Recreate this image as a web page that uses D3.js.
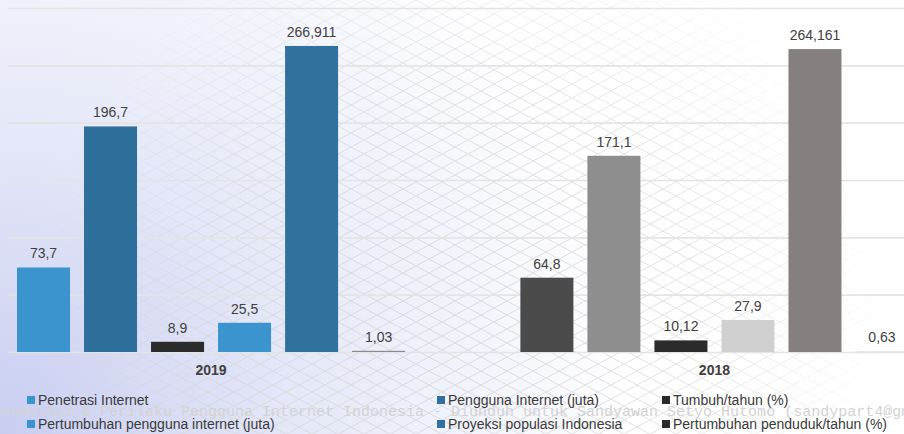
<!DOCTYPE html>
<html>
<head>
<meta charset="utf-8">
<script src="https://cdn.jsdelivr.net/npm/d3@7"></script>
<style>
  html, body { margin: 0; padding: 0; background: #fff; }
  svg { display: block; font-family: "Liberation Sans", Arial, sans-serif; }
</style>
</head>
<body>
<svg id="chart" width="904" height="434"></svg>
<script>
// ---- data ----
const categories = ["2019", "2018"];
const seriesNames = [
  "Penetrasi Internet",
  "Pengguna Internet (juta)",
  "Tumbuh/tahun (%)",
  "Pertumbuhan pengguna internet (juta)",
  "Proyeksi populasi Indonesia",
  "Pertumbuhan penduduk/tahun (%)"
];
const values2019 = [73.7, 196.7, 8.9, 25.5, 266.911, 1.03];
const values2018 = [64.8, 171.1, 10.12, 27.9, 264.161, 0.63];
const yTicks = [0, 50, 100, 150, 200, 250, 300];

// ---- styles ----
const colors2019 = ["#3b94cd", "#2f6f9b", "#2b2b2b", "#3b94cd", "#30719e", "#8a8a8a"];
const colors2018 = ["#4b4b4b", "#8e8e8e", "#2b2b2b", "#d0d0d0", "#857f7f", "#e4e4e4"];
const legendColors = ["#3b94cd", "#2f6f9b", "#2b2b2b", "#3b94cd", "#30719e", "#2b2b2b"];

const valuesByCat = { "2019": values2019, "2018": values2018 };
const colorsByCat = { "2019": colors2019, "2018": colors2018 };

const W = 904, H = 434;
const svg = d3.select("#chart");
const defs = svg.append("defs");

// background gradient (lavender bottom-left)
const rg = defs.append("radialGradient").attr("id", "bgGrad")
  .attr("gradientUnits", "userSpaceOnUse")
  .attr("cx", 0).attr("cy", 434).attr("r", 640);
rg.append("stop").attr("offset", "0%").attr("stop-color", "#c9cef1");
rg.append("stop").attr("offset", "45%").attr("stop-color", "#e4e7f8");
rg.append("stop").attr("offset", "100%").attr("stop-color", "#ffffff");

// crosshatch pattern
const pat = defs.append("pattern").attr("id", "hatch")
  .attr("patternUnits", "userSpaceOnUse").attr("width", 26).attr("height", 14);
pat.append("path").attr("d", "M0,0 L26,14 M26,0 L0,14")
  .attr("stroke", "#d4d4d4").attr("stroke-width", 0.8).attr("fill", "none");

// mask so that the hatch is visible in the middle region only
const mg = defs.append("radialGradient").attr("id", "maskGrad")
  .attr("gradientUnits", "userSpaceOnUse")
  .attr("cx", 460).attr("cy", 320).attr("r", 430);
mg.append("stop").attr("offset", "0%").attr("stop-color", "#fff").attr("stop-opacity", 1);
mg.append("stop").attr("offset", "55%").attr("stop-color", "#fff").attr("stop-opacity", 0.8);
mg.append("stop").attr("offset", "100%").attr("stop-color", "#fff").attr("stop-opacity", 0);
const mask = defs.append("mask").attr("id", "hatchMask");
mask.append("rect").attr("width", W).attr("height", H).attr("fill", "url(#maskGrad)");

svg.append("rect").attr("width", W).attr("height", H).attr("fill", "url(#bgGrad)");
svg.append("rect").attr("width", W).attr("height", H).attr("fill", "url(#hatch)")
  .attr("mask", "url(#hatchMask)");

// ---- scales ----
const y = d3.scaleLinear().domain([0, 300]).range([352, 8]);
const x0 = d3.scaleBand().domain(categories).range([17, 908.5]).paddingInner(0.229).paddingOuter(0);
const x1 = d3.scaleBand().domain(d3.range(seriesNames.length)).range([0, x0.bandwidth()])
  .paddingInner(0.209).paddingOuter(0);

// gridlines
const grid = svg.append("g").attr("transform", "translate(8,0)")
  .call(d3.axisLeft(y).tickValues(yTicks).tickSize(-(W - 8)).tickFormat(""));
grid.select(".domain").remove();
grid.selectAll("line").attr("stroke", "#e4e4e4").attr("stroke-width", 1.6);

// bars
const fmt = v => String(v).replace(".", ",");
const groups = svg.append("g").selectAll("g").data(categories).join("g")
  .attr("transform", d => `translate(${x0(d)},0)`);

groups.selectAll("rect")
  .data(c => valuesByCat[c].map((v, i) => ({ c, v, i })))
  .join("rect")
  .attr("x", d => x1(d.i))
  .attr("width", x1.bandwidth())
  .attr("y", d => y(d.v))
  .attr("height", d => y(0) - y(d.v))
  .attr("fill", d => colorsByCat[d.c][d.i]);

groups.selectAll("text.val")
  .data(c => valuesByCat[c].map((v, i) => ({ c, v, i })))
  .join("text")
  .attr("class", "val")
  .attr("x", d => x1(d.i) + x1.bandwidth() / 2)
  .attr("y", d => y(d.v) - 9)
  .attr("text-anchor", "middle")
  .attr("font-size", 14)
  .attr("fill", "#404040")
  .text(d => fmt(d.v));

// category labels
svg.append("g").selectAll("text").data(categories).join("text")
  .attr("x", d => x0(d) + x0.bandwidth() / 2)
  .attr("y", 375)
  .attr("text-anchor", "middle")
  .attr("font-size", 14)
  .attr("font-weight", "bold")
  .attr("fill", "#404040")
  .text(d => d);

// watermark
svg.append("text")
  .attr("x", -8).attr("y", 416)
  .attr("font-family", "'Liberation Mono', 'Courier New', monospace")
  .attr("font-size", 15)
  .attr("fill", "#d3d3d3")
  .text("Penetrasi & Perilaku Pengguna Internet Indonesia - Diunduh untuk Sandyawan Setyo Hutomo (sandypart4@gmail");

// legend
const legX = [27, 437, 662];
const legY = [400, 424];
const leg = svg.append("g").selectAll("g").data(seriesNames).join("g")
  .attr("transform", (d, i) => `translate(${legX[i % 3]},${legY[Math.floor(i / 3)]})`);
leg.append("rect").attr("x", 0).attr("y", -4).attr("width", 8).attr("height", 8)
  .attr("fill", (d, i) => legendColors[i]);
leg.append("text").attr("x", 11).attr("y", 5)
  .attr("font-size", 14).attr("fill", "#3a3a3a")
  .text(d => d);
</script>
</body>
</html>
